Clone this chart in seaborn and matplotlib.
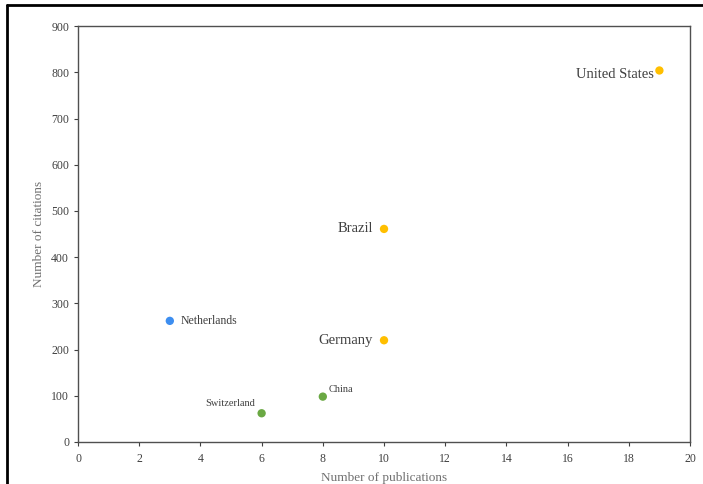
import seaborn as sns
import pandas as pd
import matplotlib.pyplot as plt
from matplotlib.lines import Line2D

# data
countries = ['Netherlands', 'Switzerland', 'China', 'Germany', 'Brazil', 'United States']
publications = [3, 6, 8, 10, 10, 19]
citations = [262, 62, 98, 220, 461, 804]
groups = ['blue', 'green', 'green', 'orange', 'orange', 'orange']

df = pd.DataFrame({'country': countries, 'pubs': publications,
                   'cites': citations, 'grp': groups})
palette = {'blue': '#3d8ef0', 'green': '#6aa843', 'orange': '#ffbf00'}

sns.set_style('white')
plt.rcParams['font.family'] = ['Liberation Serif', 'DejaVu Serif']

fig = plt.figure(figsize=(7.03, 4.84), dpi=100)
ax = fig.add_axes([0.111, 0.087, 0.8705, 0.859])
sns.scatterplot(data=df, x='pubs', y='cites', hue='grp', palette=palette,
                s=36, edgecolor='none', legend=False, ax=ax)

# label placement: (dx, dy) in points, alignment, size
lab = {'Netherlands': (8, 0, 'left', 8.5),
       'Switzerland': (-5, 7, 'right', 7.5),
       'China': (4, 5, 'left', 7.5),
       'Germany': (-8, 0, 'right', 10.5),
       'Brazil': (-8, 0, 'right', 10.5),
       'United States': (-4, -3, 'right', 10.5)}
for c, x, y in zip(countries, publications, citations):
    dx, dy, ha, fs = lab[c]
    ax.annotate(c, (x, y), xytext=(dx, dy), textcoords='offset points',
                ha=ha, va='center', fontsize=fs, color='#404040')

ax.set_xlim(0, 20)
ax.set_ylim(0, 900)
ax.set_xticks(range(0, 21, 2))
ax.set_yticks(range(0, 901, 100))
ax.tick_params(axis='both', labelsize=8.5, colors='#404040', length=3,
               width=0.8, direction='out', bottom=True, left=True)
ax.tick_params(axis='x', pad=5)
for s in ax.spines.values():
    s.set_color('#505050')
    s.set_linewidth(1.0)
ax.set_xlabel('Number of publications', fontsize=9.5, color='#707070', labelpad=5)
ax.set_ylabel('Number of citations', fontsize=9.5, color='#707070', labelpad=4)

# black frame on left and top of the picture
fig.add_artist(Line2D([0.01, 0.01], [0, 0.99], transform=fig.transFigure,
                      color='black', lw=2))
fig.add_artist(Line2D([0.01, 1], [0.99, 0.99], transform=fig.transFigure,
                      color='black', lw=2))

fig.savefig('out.png', dpi=100)
